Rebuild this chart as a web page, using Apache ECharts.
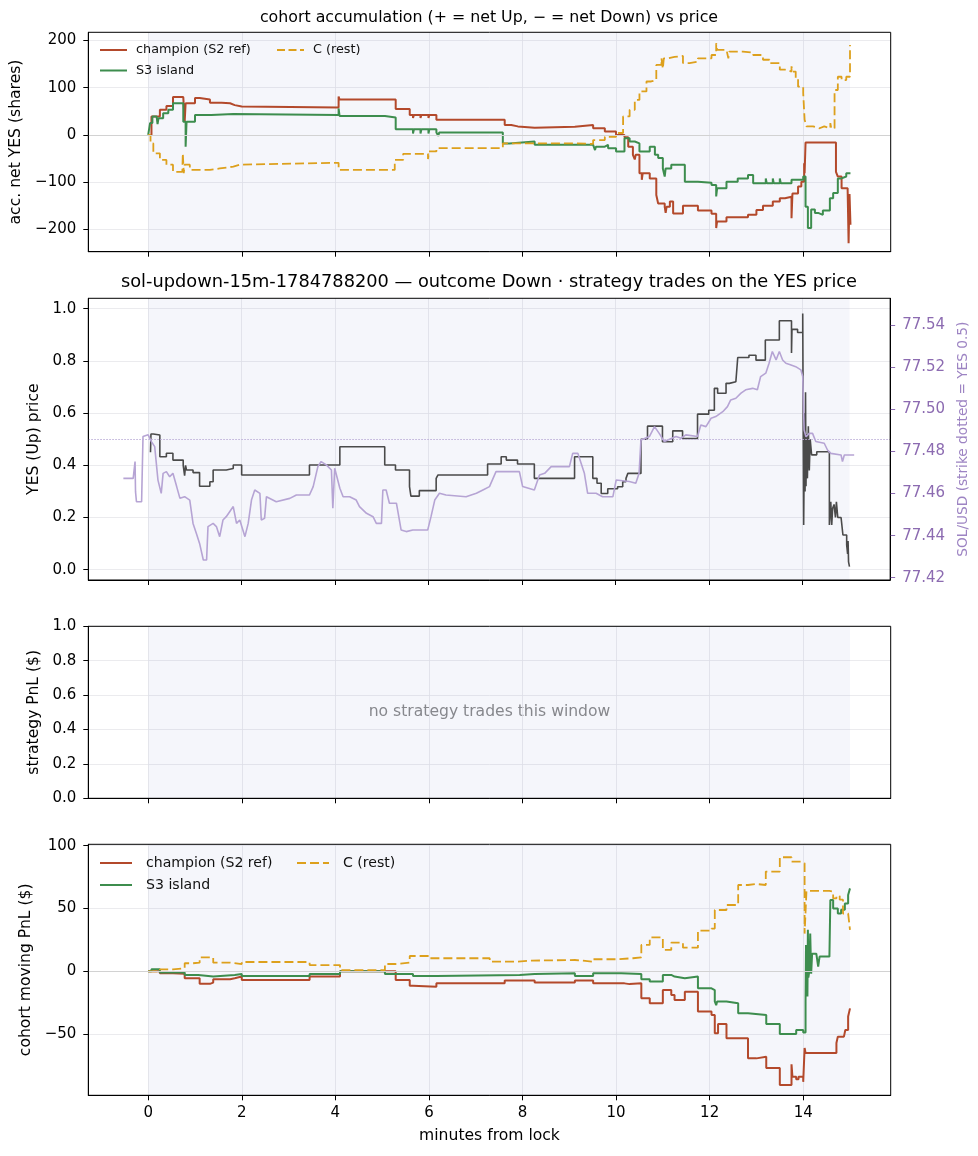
<!DOCTYPE html>
<html>
<head>
<meta charset="utf-8">
<title>cohort accumulation vs price</title>
<script src="https://cdn.jsdelivr.net/npm/echarts@6/dist/echarts.min.js"></script>
<style>
  html, body { margin: 0; padding: 0; background: #fff; }
  #chart { width: 978px; height: 1156px; }
</style>
</head>
<body>
<div id="chart"></div>
<script>
// ---- ticks / constants ----
const xTicks = [0, 2, 4, 6, 8, 10, 12, 14];
const accTicks = [-200, -100, 0, 100, 200];
const priceTicks = [0, 0.2, 0.4, 0.6, 0.8, 1.0];
const solTicks = [77.42, 77.44, 77.46, 77.48, 77.50, 77.52, 77.54];
const stratTicks = [0, 0.2, 0.4, 0.6, 0.8, 1.0];
const pnlTicks = [-50, 0, 50, 100];
const shadeWindow = [0, 15];   // lock -> expiry
const strikeYes = 0.5;

// ---- panel 1: accumulated net YES shares [minute, shares] ----
const accChampion = [[0,0],[0.07,39],[0.25,53],[0.39,61],[0.53,80],[0.75,78],[0.78,28],[0.8,67],[1.0,78],[1.1,75],[1.32,68],[1.57,67],[1.75,63],[1.85,60],[2.0,58],[4.07,81],[4.09,75],[5.29,55],[5.59,42],[5.66,36],[5.68,42],[5.82,36],[5.84,42],[5.99,36],[6.01,42],[6.16,32],[7.62,21],[7.76,18],[7.9,15],[8.26,17],[9.12,21],[9.51,14],[9.6,10],[9.62,14],[9.76,7],[10.0,0],[10.18,-5],[10.26,-25],[10.36,-42],[10.4,-52],[10.42,-42],[10.5,-81],[10.55,-95],[10.57,-81],[10.72,-92],[10.86,-127],[10.9,-145],[11.04,-152],[11.06,-165],[11.08,-152],[11.15,-141],[11.22,-166],[11.43,-150],[11.75,-160],[12.04,-167],[12.14,-197],[12.16,-183],[12.36,-174],[12.82,-169],[13.0,-159],[13.14,-150],[13.35,-141],[13.5,-134],[13.61,-131],[13.75,-176],[13.77,-124],[13.89,-109],[13.96,-99],[14.02,-60],[14.03,-81],[14.05,-16],[14.7,-78],[14.74,-88],[14.82,-113],[14.95,-118],[14.97,-229],[14.99,-125],[15.01,-190]];
const accS3 = [[0,0],[0.04,25],[0.09,39],[0.18,35],[0.2,23],[0.22,35],[0.32,46],[0.43,53],[0.53,67],[0.75,28],[0.8,-25],[0.82,28],[1.0,42],[1.35,44],[1.82,47],[1.85,42],[4.07,56],[4.09,40],[5.06,37],[5.29,12],[5.66,3],[5.68,12],[5.82,3],[5.84,12],[5.99,3],[6.01,12],[6.16,5],[6.2,-2],[6.22,5],[7.58,-18],[7.72,-14],[8.26,-21],[9.51,-25],[9.55,-32],[9.57,-25],[9.76,-21],[9.83,-28],[10.0,-35],[10.18,-7],[10.29,-14],[10.4,-18],[10.5,-35],[10.72,-25],[10.83,-42],[10.9,-49],[11.0,-71],[11.04,-88],[11.06,-71],[11.18,-63],[11.47,-99],[11.75,-101],[12.04,-106],[12.14,-130],[12.16,-113],[12.36,-99],[12.6,-92],[12.82,-85],[12.93,-102],[13.2,-92],[13.22,-102],[13.35,-92],[13.37,-102],[13.5,-92],[13.52,-102],[13.75,-95],[14.0,-88],[14.05,-152],[14.1,-197],[14.17,-158],[14.25,-165],[14.32,-169],[14.42,-160],[14.57,-134],[14.64,-123],[14.74,-92],[14.82,-88],[14.92,-81],[15.01,-80]];
const accRest = [[0,0],[0.05,-18],[0.11,-39],[0.25,-53],[0.39,-63],[0.53,-78],[0.73,-81],[0.74,-39],[0.76,-81],[0.78,-63],[0.89,-74],[1.32,-71],[1.53,-67],[1.82,-63],[1.96,-59],[4.07,-74],[5.27,-53],[5.45,-40],[5.98,-51],[6.0,-35],[6.16,-28],[7.58,-18],[9.12,-19],[9.51,-11],[9.76,-4],[10.0,4],[10.15,39],[10.29,53],[10.4,74],[10.5,92],[10.65,113],[10.75,116],[10.86,148],[10.97,162],[11.0,140],[11.02,162],[11.11,165],[11.25,167],[11.43,152],[11.57,155],[11.75,162],[12.04,169],[12.14,194],[12.16,180],[12.36,176],[12.4,162],[12.42,176],[12.71,174],[12.93,169],[13.14,159],[13.28,152],[13.5,138],[13.61,134],[13.75,145],[13.77,134],[13.84,120],[13.89,102],[14.0,88],[14.03,32],[14.07,18],[14.21,14],[14.35,18],[14.45,14],[14.58,25],[14.6,14],[14.67,95],[14.74,123],[14.82,116],[14.92,123],[15.0,190]];

// ---- panel 2: YES price (step) and SOL/USD ----
const yesPrice = [[0.05,0.45],[0.06,0.52],[0.11,0.516],[0.25,0.433],[0.39,0.446],[0.53,0.42],[0.75,0.40],[0.78,0.36],[0.8,0.40],[0.82,0.382],[0.96,0.372],[1.1,0.32],[1.32,0.337],[1.39,0.382],[1.67,0.388],[1.82,0.401],[2.0,0.363],[3.45,0.401],[4.1,0.471],[5.06,0.401],[5.29,0.382],[5.59,0.318],[5.62,0.282],[5.8,0.303],[6.16,0.35],[6.2,0.363],[7.26,0.405],[7.55,0.433],[7.66,0.42],[7.9,0.405],[8.26,0.35],[9.12,0.433],[9.51,0.35],[9.6,0.331],[9.69,0.292],[9.83,0.31],[10.04,0.318],[10.15,0.337],[10.22,0.35],[10.26,0.369],[10.54,0.50],[10.68,0.55],[11.0,0.49],[11.22,0.532],[11.43,0.503],[11.75,0.596],[11.99,0.611],[12.11,0.695],[12.18,0.676],[12.36,0.714],[12.43,0.72],[12.57,0.714],[12.61,0.813],[12.85,0.822],[13.0,0.803],[13.2,0.88],[13.5,0.954],[13.76,0.83],[13.77,0.921],[13.89,0.909],[14.0,0.982],[14.02,0.171],[14.04,0.6],[14.05,0.3],[14.06,0.68],[14.07,0.32],[14.08,0.52],[14.1,0.35],[14.12,0.55],[14.14,0.38],[14.16,0.5],[14.19,0.44],[14.3,0.452],[14.57,0.171],[14.6,0.26],[14.62,0.171],[14.64,0.235],[14.67,0.25],[14.7,0.2],[14.72,0.26],[14.75,0.2],[14.82,0.197],[14.86,0.133],[14.94,0.095],[14.96,0.06],[14.97,0.11],[14.98,0.03],[15.0,0.012]];
const solUsd = [[-0.53,77.4672],[-0.32,77.4672],[-0.28,77.4752],[-0.27,77.4609],[-0.25,77.4561],[-0.14,77.4561],[-0.11,77.4871],[0,77.4879],[0.07,77.4847],[0.14,77.4823],[0.21,77.4664],[0.28,77.4601],[0.32,77.4696],[0.39,77.4704],[0.46,77.468],[0.53,77.4696],[0.61,77.4633],[0.68,77.4577],[0.78,77.4585],[0.89,77.4569],[0.96,77.4458],[1.03,77.4411],[1.1,77.4363],[1.18,77.4284],[1.25,77.4284],[1.28,77.4443],[1.39,77.4458],[1.46,77.4443],[1.53,77.4395],[1.6,77.4474],[1.67,77.449],[1.82,77.4538],[1.89,77.4458],[1.96,77.4474],[2.07,77.4395],[2.14,77.4458],[2.21,77.4569],[2.28,77.4617],[2.39,77.4601],[2.42,77.4474],[2.49,77.4482],[2.53,77.4585],[2.74,77.4561],[3.03,77.4577],[3.17,77.4593],[3.45,77.4593],[3.53,77.4633],[3.63,77.4728],[3.7,77.4752],[3.81,77.4736],[3.92,77.4712],[3.95,77.453],[3.99,77.472],[4.1,77.4625],[4.17,77.4585],[4.31,77.4585],[4.45,77.4569],[4.52,77.4538],[4.67,77.4506],[4.81,77.449],[4.88,77.4458],[4.99,77.4458],[5.02,77.4617],[5.09,77.4617],[5.16,77.4554],[5.31,77.4554],[5.41,77.4427],[5.52,77.4419],[5.66,77.4427],[5.98,77.4427],[6.05,77.449],[6.13,77.4569],[6.23,77.4601],[6.37,77.4593],[6.8,77.4585],[7.02,77.4601],[7.16,77.4617],[7.3,77.4633],[7.44,77.4704],[7.94,77.4704],[8.01,77.4633],[8.26,77.4617],[8.37,77.4688],[8.48,77.4696],[8.62,77.4728],[9.01,77.4728],[9.08,77.4791],[9.19,77.4791],[9.26,77.4744],[9.33,77.4696],[9.4,77.4601],[9.58,77.4601],[9.72,77.4585],[9.94,77.4585],[10.01,77.4664],[10.29,77.4657],[10.43,77.4649],[10.5,77.4696],[10.54,77.4855],[10.72,77.4871],[10.83,77.4918],[10.93,77.4886],[11.04,77.4847],[11.29,77.4871],[11.4,77.4863],[11.5,77.4879],[11.75,77.4871],[11.82,77.4926],[11.93,77.4918],[12.04,77.4958],[12.14,77.4966],[12.29,77.4989],[12.39,77.5013],[12.46,77.5045],[12.57,77.5053],[12.68,77.5077],[12.78,77.5093],[12.93,77.51],[13.03,77.5093],[13.1,77.5156],[13.21,77.5172],[13.28,77.5219],[13.35,77.5275],[13.43,77.5235],[13.5,77.5275],[13.57,77.5235],[13.64,77.5219],[13.75,77.5211],[13.85,77.5203],[13.96,77.5188],[14.0,77.5156],[14.03,77.4902],[14.07,77.487],[14.14,77.4886],[14.21,77.4886],[14.25,77.4894],[14.28,77.4847],[14.46,77.4839],[14.53,77.4807],[14.6,77.4791],[14.82,77.4783],[14.85,77.4752],[14.89,77.4783],[15.1,77.4783]];

// ---- panel 4: cohort moving PnL [minute, $] ----
const pnlChampion = [[0,0],[0.25,-1.6],[0.53,-2],[0.78,-5.6],[1.1,-10],[1.32,-9],[1.39,-6.4],[1.75,-5.6],[1.85,-4.2],[2.0,-6.9],[3.45,-4.2],[4.1,0],[5.29,-6.9],[5.59,-11.4],[5.66,-12.2],[6.16,-9.6],[7.62,-7.4],[8.26,-9],[9.12,-7.4],[9.51,-9.6],[10.18,-10.2],[10.29,-9.6],[10.54,-21.5],[10.72,-25.5],[11.0,-14.9],[11.18,-18.8],[11.25,-22.8],[11.47,-16.2],[11.75,-32],[12.04,-34.8],[12.11,-49.4],[12.18,-42],[12.36,-53.3],[12.82,-69.3],[13.0,-68],[13.21,-77],[13.5,-90.5],[13.75,-74],[13.77,-84],[13.85,-86],[13.9,-84],[14.0,-88],[14.03,-61],[14.05,-65],[14.71,-57],[14.74,-52],[14.87,-52],[14.9,-46.7],[14.96,-36],[15.0,-29.5]];
const pnlS3 = [[0,0],[0.07,1.6],[0.25,-1],[0.78,-2.9],[1.07,-4.2],[1.39,-2.9],[1.85,-2.1],[2.0,-3.7],[3.45,-2.1],[4.1,0],[5.06,-2.1],[5.66,-3.7],[6.16,-2.9],[7.94,-2.1],[8.26,-1.6],[9.12,-3.7],[9.51,-1.6],[10.11,-2.1],[10.54,-6.4],[10.72,-8.2],[11.0,-2.9],[11.18,-4.2],[11.25,-5.6],[11.47,-4.2],[11.75,-13.5],[12.04,-14.9],[12.11,-24],[12.14,-27],[12.16,-24],[12.36,-25.5],[12.61,-33.4],[12.82,-34.8],[13.21,-42],[13.5,-49.9],[13.85,-46.7],[14.0,-48.8],[14.05,-24],[14.06,21],[14.07,-10],[14.08,9],[14.09,-20],[14.1,33],[14.11,-5],[14.13,0],[14.15,30],[14.17,-2],[14.19,14],[14.28,13],[14.32,3.7],[14.35,11.7],[14.56,11.7],[14.58,56.8],[14.64,50],[14.74,46],[14.81,49],[14.89,54],[14.96,60.8],[15.0,66]];
const pnlRest = [[0,0],[0.25,1.6],[0.53,2.4],[0.78,6.4],[0.96,6.9],[1.1,11.1],[1.39,6.9],[1.75,5.8],[2.0,7.4],[3.45,5.0],[4.1,1.0],[5.06,5.8],[5.29,6.9],[5.59,12.2],[6.02,10.4],[7.3,7.7],[7.87,8.5],[8.2,9],[9.12,7.7],[9.51,9.6],[10.0,10.4],[10.36,11.1],[10.54,21],[10.72,27],[11.0,17],[11.18,22.8],[11.43,18.8],[11.75,32.4],[12.04,34],[12.11,48.8],[12.36,52.8],[12.61,68.7],[12.82,69.5],[13.0,68.7],[13.2,79.4],[13.5,90.8],[13.75,87.3],[13.96,86],[14.03,30],[14.07,64],[14.56,63.4],[14.64,58],[14.71,60],[14.78,57],[14.85,46],[14.96,46],[15.0,33]];

// ---- styling ----
const FONT = 'DejaVu Sans';
const C_CHAMP = '#b3492b', C_S3 = '#3d8d4e', C_REST = '#dda01c';
const C_YES = '#4a4a4a', C_SOL = '#b6a4d4', C_SOL_TXT = '#8c6bb1';
const GRID_C = '#e6e6ea';
const X_MIN = -1.28, X_MAX = 15.87;
const LEFT = 88.3, WIDTH = 802.4;
const TICK_FS = 15;

const minus = v => String(v).replace('-', '\u2212');

function xAxisFor(i) {
    return {
        type: 'value', gridIndex: i, min: X_MIN, max: X_MAX,
        axisLine: { show: true, onZero: false, lineStyle: { color: '#000', width: 1 } },
        axisTick: { show: true, customValues: xTicks, length: 5, lineStyle: { color: '#000' } },
        axisLabel: { show: i === 3, customValues: xTicks, margin: 10, fontSize: TICK_FS, color: '#000', fontFamily: FONT },
        splitLine: { show: true, lineStyle: { color: GRID_C, width: 0.8 } },
        name: i === 3 ? 'minutes from lock' : '',
        nameLocation: 'middle', nameGap: 33,
        nameTextStyle: { fontSize: 15.6, color: '#000', fontFamily: FONT }
    };
}

function yAxisFor(grid, min, max, ticks, name, gap, fmt) {
    return {
        type: 'value', gridIndex: grid, min, max, position: 'left',
        axisLine: { show: true, onZero: false, lineStyle: { color: '#000', width: 1 } },
        axisTick: { show: true, customValues: ticks, length: 5, lineStyle: { color: '#000' } },
        axisLabel: { customValues: ticks, margin: 12, fontSize: TICK_FS, color: '#000', fontFamily: FONT, formatter: fmt },
        splitLine: { show: true, lineStyle: { color: GRID_C, width: 0.8 } },
        name, nameLocation: 'middle', nameGap: gap, nameRotate: 90,
        nameTextStyle: { fontSize: 15.6, color: '#000', fontFamily: FONT }
    };
}

function stepLine(name, data, xi, yi, color, width, dashed) {
    return {
        name, type: 'line', xAxisIndex: xi, yAxisIndex: yi, data, step: 'end',
        symbol: 'none', showSymbol: false, silent: true, z: 3,
        lineStyle: { color, width, type: dashed ? [9, 4] : 'solid' },
        itemStyle: { color }
    };
}

// background series: shaded window + reference lines
function shade(xi, yi, refY, refStyle) {
    const s = {
        type: 'line', xAxisIndex: xi, yAxisIndex: yi, data: [], silent: true, z: 1,
        markArea: {
            silent: true,
            itemStyle: { color: 'rgba(100,120,190,0.065)' },
            data: [[{ xAxis: shadeWindow[0] }, { xAxis: shadeWindow[1] }]]
        }
    };
    if (refY !== null) {
        s.markLine = {
            silent: true, symbol: 'none', label: { show: false },
            lineStyle: refStyle, data: [{ yAxis: refY }]
        };
    }
    return s;
}

const zeroLine = { color: '#d2d2d2', width: 1, type: 'solid' };
const strikeLine = { color: '#bcaed8', width: 1, type: [1.5, 1.5] };

const ICON_SOLID_S = 'path://M0,0h27v2h-27zM31,0h0.01v2h-0.01z';
const ICON_DASH_S = 'path://M0,0h8v2h-8zM11.5,0h8v2h-8zM23,0h4v2h-4zM31,0h0.01v2h-0.01z';
const ICON_SOLID_L = 'path://M0,0h32v2h-32zM41,0h0.01v2h-0.01z';
const ICON_DASH_L = 'path://M0,0h9v2h-9zM13,0h9v2h-9zM26,0h6v2h-6zM41,0h0.01v2h-0.01z';

function legendItem(name, icon, left, top, w, fs) {
    return {
        left, top, padding: 0, orient: 'horizontal', selectedMode: false,
        itemWidth: w, itemHeight: 2,
        data: [{ name, icon }],
        textStyle: { fontSize: fs, color: '#111', fontFamily: FONT, lineHeight: fs + 2 }
    };
}

const gridBox = (top, height) => ({
    left: LEFT, top, width: WIDTH, height, show: true, z: 6,
    borderColor: '#000', borderWidth: 1, backgroundColor: 'transparent'
});

const chart = echarts.init(document.getElementById('chart'), null, { renderer: 'canvas' });

const option = {
    animation: false,
    backgroundColor: '#fff',
    textStyle: { fontFamily: FONT },
    title: [
        { text: 'cohort accumulation (+ = net Up, \u2212 = net Down) vs price', left: 'center', top: 8.5, padding: 0,
          textStyle: { fontSize: 15.8, fontWeight: 'normal', color: '#000', fontFamily: FONT, lineHeight: 18 } },
        { text: 'sol-updown-15m-1784788200 \u2014 outcome Down \u00b7 strategy trades on the YES price', left: 'center', top: 272.5, padding: 0,
          textStyle: { fontSize: 17.8, fontWeight: 'normal', color: '#000', fontFamily: FONT, lineHeight: 20 } }
    ],
    legend: [
        legendItem('champion (S2 ref)', ICON_SOLID_S, 100, 42.5, 31, 12.8),
        legendItem('S3 island', ICON_SOLID_S, 100, 63, 31, 12.8),
        legendItem('C (rest)', ICON_DASH_S, 277, 42.5, 31, 12.8),
        legendItem('champion (S2 ref)', ICON_SOLID_L, 100, 855, 41, 14.1),
        legendItem('S3 island', ICON_SOLID_L, 100, 877, 41, 14.1),
        legendItem('C (rest)', ICON_DASH_L, 297, 855, 41, 14.1)
    ],
    grid: [gridBox(32.3, 219.4), gridBox(298.3, 281.7), gridBox(626.3, 172), gridBox(844.3, 251)],
    xAxis: [xAxisFor(0), xAxisFor(1), xAxisFor(2), xAxisFor(3)],
    yAxis: [
        yAxisFor(0, -247, 217, accTicks, 'acc. net YES (shares)', 57, minus),
        yAxisFor(1, -0.0395, 1.04, priceTicks, 'YES (Up) price', 41, v => v.toFixed(1)),
        {
            type: 'value', gridIndex: 1, min: 77.4189, max: 77.5528, position: 'right',
            axisLine: { show: true, onZero: false, lineStyle: { color: '#000', width: 1 } },
            axisTick: { show: true, customValues: solTicks, length: 5, lineStyle: { color: C_SOL_TXT } },
            axisLabel: { customValues: solTicks, margin: 12, fontSize: TICK_FS, color: C_SOL_TXT, fontFamily: FONT, formatter: v => v.toFixed(2) },
            splitLine: { show: false },
            name: 'SOL/USD (strike dotted = YES 0.5)', nameLocation: 'middle', nameGap: 52, nameRotate: 90,
            nameTextStyle: { fontSize: 13.7, color: '#9d84c3', fontFamily: FONT }
        },
        yAxisFor(2, 0, 1, stratTicks, 'strategy PnL ($)', 41, v => v.toFixed(1)),
        yAxisFor(3, -98.7, 101.1, pnlTicks, 'cohort moving PnL ($)', 48, minus)
    ],
    graphic: [{
        type: 'text', x: LEFT + WIDTH / 2, y: 711.5, silent: true,
        style: { text: 'no strategy trades this window', fill: '#8a8a8a', font: '15.6px "DejaVu Sans"', textAlign: 'center', textVerticalAlign: 'middle' }
    }],
    series: [
        shade(0, 0, 0, zeroLine),
        stepLine('champion (S2 ref)', accChampion, 0, 0, C_CHAMP, 2, false),
        stepLine('S3 island', accS3, 0, 0, C_S3, 2, false),
        stepLine('C (rest)', accRest, 0, 0, C_REST, 1.8, true),

        shade(1, 1, strikeYes, strikeLine),
        stepLine('YES price', yesPrice, 1, 1, C_YES, 1.6, false),
        {
            name: 'SOL/USD', type: 'line', xAxisIndex: 1, yAxisIndex: 2, data: solUsd,
            symbol: 'none', showSymbol: false, silent: true, z: 4,
            lineStyle: { color: C_SOL, width: 1.6 }
        },

        shade(2, 3, null, null),

        shade(3, 4, 0, zeroLine),
        stepLine('champion (S2 ref)', pnlChampion, 3, 4, C_CHAMP, 2, false),
        stepLine('S3 island', pnlS3, 3, 4, C_S3, 2, false),
        stepLine('C (rest)', pnlRest, 3, 4, C_REST, 1.8, true)
    ]
};

chart.setOption(option);
</script>
</body>
</html>
